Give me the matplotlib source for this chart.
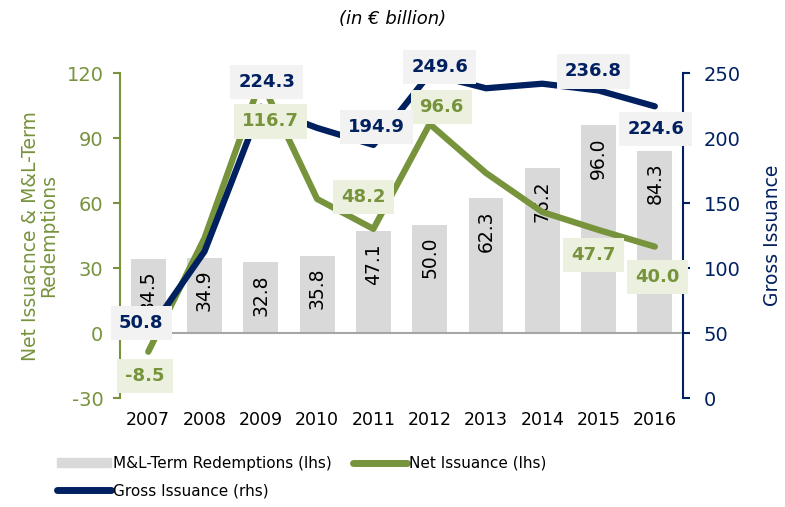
import matplotlib
matplotlib.use("Agg")
import matplotlib.pyplot as plt
from matplotlib.patches import Patch
from matplotlib.lines import Line2D

plt.rcParams["axes.unicode_minus"] = False

years = ["2007", "2008", "2009", "2010", "2011", "2012", "2013", "2014", "2015", "2016"]
redemptions = [34.5, 34.9, 32.8, 35.8, 47.1, 50.0, 62.3, 76.2, 96.0, 84.3]
net_issuance = [-8.5, 44.0, 116.7, 62.0, 48.2, 96.6, 74.0, 56.0, 47.7, 40.0]
gross_issuance = [50.8, 113.0, 224.3, 208.0, 194.9, 249.6, 238.5, 242.0, 236.8, 224.6]

# which points carry a value box (index -> pixel offset)
net_labels = {0: (-3, -24), 2: (10, -41), 4: (-10, 32), 5: (12, 17), 8: (-5, -25), 9: (3, -30)}
gross_labels = {0: (-7, 9), 2: (6, 25), 4: (3, 18), 5: (10, 7), 8: (-5, 19), 9: (1, -23)}

GREEN = "#77933C"
NAVY = "#002060"
GREY = "#D9D9D9"

fig = plt.figure(figsize=(7.85, 5.07), dpi=100)
ax = fig.add_axes([0.153, 0.2144, 0.717, 0.641])
ax2 = ax.twinx()

x = list(range(len(years)))
ax.bar(x, redemptions, width=0.62, color=GREY, zorder=1)
ax.axhline(0, color="#A6A6A6", lw=1.5, zorder=1.5)
for i, v in enumerate(redemptions):
    ax.annotate(f"{v:.1f}", (i, v), xytext=(0, -12), textcoords="offset pixels",
                rotation=90, ha="center", va="top", fontsize=13.5, color="black", zorder=2)
ax.plot(x, net_issuance, color=GREEN, lw=4.5, solid_capstyle="round", zorder=3)
ax2.plot(x, gross_issuance, color=NAVY, lw=4.5, solid_capstyle="round", zorder=3)

for i, (dx, dy) in net_labels.items():
    ax2.annotate(f"{net_issuance[i]:.1f}", (i, net_issuance[i]), xycoords=ax.transData,
                 xytext=(dx, dy), textcoords="offset pixels", ha="center", va="center",
                 fontsize=13, fontweight="bold", color=GREEN, zorder=5,
                 bbox=dict(boxstyle="square,pad=0.45", fc="#EBF1DE", ec="none"))
for i, (dx, dy) in gross_labels.items():
    ax2.annotate(f"{gross_issuance[i]:.1f}", (i, gross_issuance[i]),
                 xytext=(dx, dy), textcoords="offset pixels", ha="center", va="center",
                 fontsize=13, fontweight="bold", color=NAVY, zorder=5,
                 bbox=dict(boxstyle="square,pad=0.45", fc="#F2F2F2", ec="none"))

ax.set_xlim(-0.5, len(years) - 0.5)
ax.set_ylim(-30, 120)
ax.set_yticks([-30, 0, 30, 60, 90, 120])
ax2.set_ylim(0, 250)
ax2.set_yticks([0, 50, 100, 150, 200, 250])
ax.set_xticks(x)
ax.set_xticklabels(years, fontsize=12.5)
ax.tick_params(axis="x", length=0, pad=9)
ax.tick_params(axis="y", colors=GREEN, length=5, width=1.5, pad=7, labelsize=14)
ax2.tick_params(axis="y", colors=NAVY, length=5, width=1.5, pad=10, labelsize=14)

for a in (ax, ax2):
    a.spines["top"].set_visible(False)
    a.spines["bottom"].set_visible(False)
ax.spines["right"].set_visible(False)
ax2.spines["left"].set_visible(False)
ax.spines["left"].set_color(GREEN)
ax.spines["left"].set_linewidth(1.5)
ax2.spines["right"].set_color(NAVY)
ax2.spines["right"].set_linewidth(1.5)

ax.set_ylabel("Net Issuacnce & M&L-Term\nRedemptions", color=GREEN,
              fontsize=13.5, linespacing=0.95, labelpad=6)
ax2.set_ylabel("Gross Issuance", color=NAVY, fontsize=13.5, labelpad=16)

fig.text(0.5, 0.962, "(in € billion)", ha="center", va="center", style="italic",
         fontsize=13)

handles = [Patch(color=GREY),
           Line2D([], [], color=NAVY, lw=5, solid_capstyle="round"),
           Line2D([], [], color=GREEN, lw=5, solid_capstyle="round")]
labels = ["M&L-Term Redemptions (lhs)", "Gross Issuance (rhs)", "Net Issuance (lhs)"]
fig.legend(handles, labels, ncol=2, loc="upper left", bbox_to_anchor=(0.073, 0.101),
           frameon=False, prop={"size": 11}, handlelength=3.5,
           handleheight=0.6, handletextpad=0.15, columnspacing=1.4, labelspacing=0.8,
           borderaxespad=0, borderpad=0)

fig.savefig("out.png", dpi=100)
